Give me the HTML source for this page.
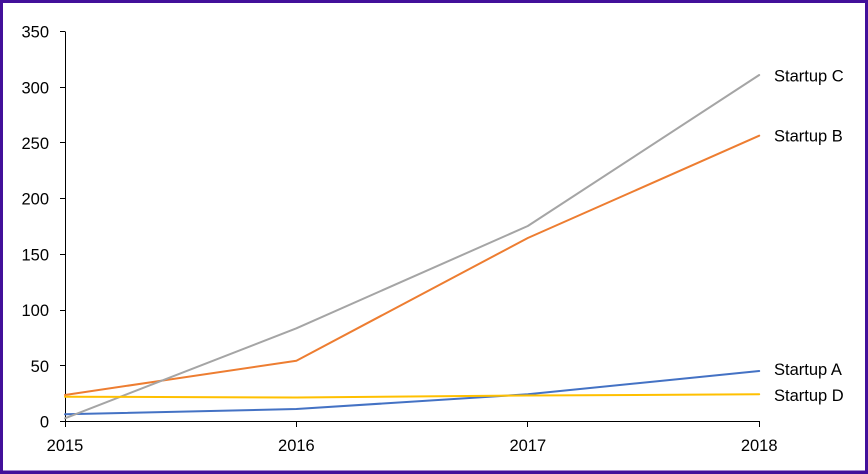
<!DOCTYPE html>
<html>
<head>
<meta charset="utf-8">
<style>
html,body{margin:0;padding:0;background:#fff;}
body{width:868px;height:474px;overflow:hidden;}
svg{display:block;}
text{font-family:"Liberation Sans",Arial,sans-serif;font-size:16.5px;fill:#000;}
</style>
</head>
<body>
<svg width="868" height="474" viewBox="0 0 868 474" xmlns="http://www.w3.org/2000/svg">
  <rect x="0" y="0" width="868" height="474" fill="#ffffff"/>
  <!-- border -->
  <rect x="1.5" y="1.5" width="865" height="470.5" fill="none" stroke="#42109a" stroke-width="3"/>
  <rect x="0" y="471" width="868" height="3" fill="#42109a"/>

  <!-- axes -->
  <g stroke="#000" stroke-width="1" fill="none" shape-rendering="crispEdges">
    <line x1="65.5" y1="31.5" x2="65.5" y2="421.5"/>
    <line x1="65" y1="421.5" x2="759.5" y2="421.5"/>
    <!-- y ticks -->
    <line x1="60" y1="31.5" x2="65" y2="31.5"/>
    <line x1="60" y1="87.5" x2="65" y2="87.5"/>
    <line x1="60" y1="142.5" x2="65" y2="142.5"/>
    <line x1="60" y1="198.5" x2="65" y2="198.5"/>
    <line x1="60" y1="254.5" x2="65" y2="254.5"/>
    <line x1="60" y1="310.5" x2="65" y2="310.5"/>
    <line x1="60" y1="365.5" x2="65" y2="365.5"/>
    <line x1="60" y1="421.5" x2="65" y2="421.5"/>
    <!-- x ticks -->
    <line x1="65.5" y1="421" x2="65.5" y2="427"/>
    <line x1="296.5" y1="421" x2="296.5" y2="427"/>
    <line x1="527.5" y1="421" x2="527.5" y2="427"/>
    <line x1="759.5" y1="421" x2="759.5" y2="427"/>
  </g>

  <!-- y labels -->
  <g text-anchor="end">
    <text x="49" y="37.5">350</text>
    <text x="49" y="93.3">300</text>
    <text x="49" y="149">250</text>
    <text x="49" y="204.7">200</text>
    <text x="49" y="260.4">150</text>
    <text x="49" y="316.1">100</text>
    <text x="49" y="371.8">50</text>
    <text x="49" y="427.5">0</text>
  </g>

  <!-- x labels -->
  <g text-anchor="middle">
    <text x="65" y="451">2015</text>
    <text x="296.4" y="451">2016</text>
    <text x="527.8" y="451">2017</text>
    <text x="759.2" y="451">2018</text>
  </g>

  <!-- series -->
  <g fill="none" stroke-width="2" stroke-linejoin="round" stroke-linecap="round">
    <polyline stroke="#4472C4" points="65,414.3 296.4,409 527.8,394.3 759.2,371"/>
    <polyline stroke="#ED7D31" points="65,395 296.4,360.7 527.8,238 759.2,135.7"/>
    <polyline stroke="#A5A5A5" points="65,418.3 296.4,328.3 527.8,226 759.2,75"/>
    <polyline stroke="#FFC000" points="65,396.7 296.4,397.5 527.8,395.5 759.2,394.3"/>
  </g>

  <!-- series labels -->
  <text x="774" y="81.5">Startup C</text>
  <text x="774" y="141.5">Startup B</text>
  <text x="774" y="375">Startup A</text>
  <text x="774" y="401">Startup D</text>
</svg>
</body>
</html>
